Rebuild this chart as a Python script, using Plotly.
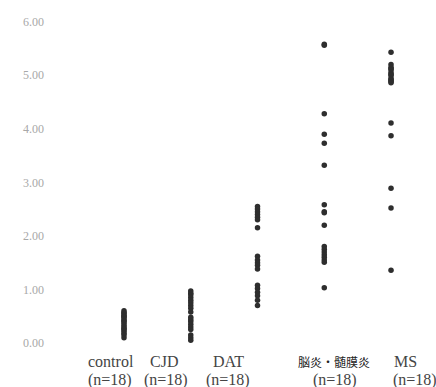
import plotly.graph_objects as go

categories = ["control", "CJD", "DAT", "脳炎・髄膜炎", "MS"]
n_labels = ["(n=18)", "(n=18)", "(n=18)", "(n=18)", "(n=18)"]

control = [0.60, 0.57, 0.55, 0.52, 0.50, 0.48, 0.45, 0.42, 0.40, 0.37, 0.33, 0.30, 0.27, 0.25, 0.22, 0.18, 0.15, 0.10]
cjd = [0.97, 0.93, 0.90, 0.85, 0.80, 0.75, 0.70, 0.65, 0.58, 0.48, 0.44, 0.40, 0.35, 0.30, 0.25, 0.15, 0.10, 0.05]
dat = [2.55, 2.50, 2.45, 2.40, 2.35, 2.30, 2.15, 1.62, 1.55, 1.50, 1.45, 1.38, 1.08, 1.02, 0.95, 0.88, 0.80, 0.70]
encephalitis = [5.58, 5.56, 4.28, 3.90, 3.73, 3.32, 2.58, 2.45, 2.43, 2.20, 1.80, 1.75, 1.70, 1.65, 1.60, 1.55, 1.51, 1.03]
ms = [5.43, 5.20, 5.15, 5.12, 5.10, 5.05, 5.02, 5.00, 4.95, 4.92, 4.90, 4.88, 4.86, 4.11, 3.87, 2.89, 2.52, 1.36]

groups = [control, cjd, dat, encephalitis, ms]
y_ticks = [0, 1, 2, 3, 4, 5, 6]
y_tick_text = ["0.00", "1.00", "2.00", "3.00", "4.00", "5.00", "6.00"]
# label centres (in category units) as printed in the original figure
label_pos = [-0.19, 0.60, 1.56, 3.15, 4.22]
n_pos = [-0.21, 0.63, 1.56, 3.16, 4.36]

fig = go.Figure()
for i, vals in enumerate(groups):
    fig.add_trace(go.Scatter(
        x=[i] * len(vals), y=vals, mode="markers",
        marker=dict(size=5.5, color="#2e2e2e"),
        showlegend=False, hoverinfo="y",
    ))

for i, (c, n) in enumerate(zip(categories, n_labels)):
    cjk = any(ord(ch) > 0x2000 for ch in c)
    fig.add_annotation(
        x=label_pos[i], y=-0.029, xref="x", yref="paper", text=c, showarrow=False,
        font=dict(size=12 if cjk else 16, color="#222222" if cjk else "#444444",
                  family="Noto Sans CJK JP" if cjk else "Liberation Serif"),
        xanchor="center", yanchor="middle",
    )
    fig.add_annotation(
        x=n_pos[i], y=-0.082, xref="x", yref="paper", text=n, showarrow=False,
        font=dict(size=16, color="#444444", family="Liberation Serif"),
        xanchor="center", yanchor="middle",
    )

fig.update_layout(
    width=436, height=387,
    margin=dict(l=50, r=10, t=10, b=35),
    paper_bgcolor="white", plot_bgcolor="white",
    font=dict(family="Liberation Serif, serif"),
    xaxis=dict(
        range=[-1.1086, 4.524], showticklabels=False, automargin=False,
        showgrid=False, zeroline=False, showline=False, ticks="",
    ),
    yaxis=dict(
        range=[-0.168, 6.218], automargin=False,
        tickvals=y_ticks, ticktext=y_tick_text,
        tickfont=dict(size=12, color="#a8a8a8"),
        ticklabelstandoff=5,
        showgrid=False, zeroline=False, showline=False, ticks="",
    ),
)

fig.write_html("out.html", config={"displayModeBar": False},
               post_script="document.body.style.margin='0';")
